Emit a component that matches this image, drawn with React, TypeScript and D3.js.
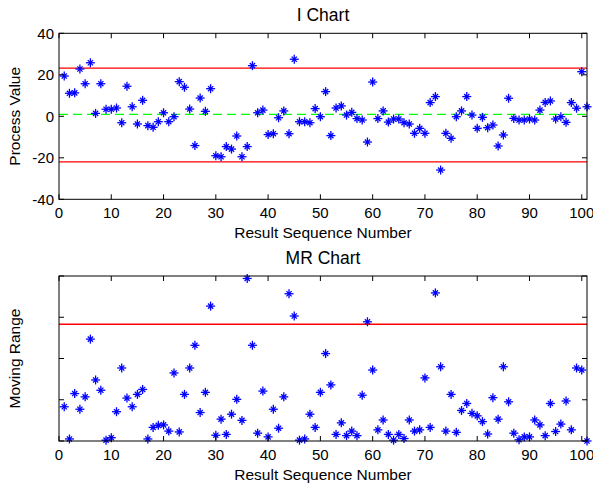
import React from "react";
import * as d3 from "d3";

// individual values, sample 1..101
const iValues = [
  19.4, 11.1, 11.3, 22.8, 15.7, 25.8, 1.4, 15.7, 3.4, 3.4,
  4.0, -3.1, 14.5, 4.6, -3.7, 7.7, -4.5, -5.3, -2.6, 1.7,
  -2.6, -0.2, 16.7, 14.0, 3.5, -14.1, 8.8, 2.4, 13.3, -19.0,
  -19.5, -14.6, -15.8, -9.5, -19.5, -14.6, 24.4, 1.7, 3.0, -8.8,
  -8.4, -0.7, 2.6, -8.4, 27.5, -2.6, -2.6, -3.1, 3.7, -0.2,
  11.9, -9.3, 4.0, 5.0, 0.6, 1.9, -1.1, -1.8, -12.4, 16.5,
  -1.1, 2.6, -2.8, -1.3, -1.3, -3.1, -3.7, -8.2, -5.8, -8.2,
  6.6, 9.5, -25.9, -8.2, -10.6, -0.2, 2.6, 9.5, 0.6, -5.8,
  -0.5, -5.5, -4.2, -14.3, -9.0, 8.7, -1.0, -1.8, -1.8, -1.3,
  -1.8, 3.0, 6.7, 7.4, -1.3, -0.2, -2.9, 6.6, 3.9, 21.5,
  4.6,
];

// moving ranges, sample 1..101
const mrValues = [
  8.3, 0.5, 11.5, 7.7, 10.7, 24.7, 14.8, 12.3, 0.2, 0.8,
  7.1, 17.7, 10.4, 8.3, 11.3, 12.5, 0.5, 3.3, 3.8, 3.9,
  2.4, 16.5, 2.2, 11.3, 17.7, 23.2, 6.9, 11.8, 32.7, 1.4,
  5.3, 1.6, 6.5, 10.1, 5.0, 39.4, 23.2, 1.9, 12.1, 1.0,
  7.7, 3.1, 10.7, 35.7, 30.3, 0.2, 0.5, 6.5, 3.3, 11.8,
  21.2, 13.6, 1.6, 4.4, 1.3, 2.4, 1.3, 11.1, 28.9, 17.2,
  2.7, 5.1, 1.6, 0.2, 1.6, 0.6, 5.1, 2.4, 2.7, 15.3,
  3.3, 35.9, 18.0, 2.4, 11.3, 2.1, 7.4, 9.1, 6.7, 6.1,
  4.7, 1.7, 10.5, 5.3, 18.0, 9.5, 1.9, 0.3, 1.0, 1.0,
  5.1, 3.9, 1.3, 9.1, 2.3, 4.1, 9.7, 2.7, 17.7, 17.2,
  0,
];

const iLimits = { ucl: 23.2, cl: 0.9, lcl: -22.0 };
const mrUcl = 28.3;

const xTicks = [0, 10, 20, 30, 40, 50, 60, 70, 80, 90, 100];
const iTicks = [-40, -20, 0, 20, 40];
const mrTicks = [0, 10, 20, 30, 40];

const font = "'Liberation Sans', Arial, sans-serif";
const left = 59;
const right = 587;

const x = d3.scaleLinear().domain([0, 101]).range([left, right]);

function Star({ cx, cy }: { cx: number; cy: number }) {
  const a = 4.5;
  const d = 2.6;
  return (
    <g stroke="#0000ff" strokeWidth={1.3}>
      <line x1={cx - a} x2={cx + a} y1={cy} y2={cy} />
      <line x1={cx} x2={cx} y1={cy - a} y2={cy + a} />
      <line x1={cx - d} x2={cx + d} y1={cy - d} y2={cy + d} />
      <line x1={cx - d} x2={cx + d} y1={cy + d} y2={cy - d} />
      <circle cx={cx} cy={cy} r={1.4} fill="#0000ff" stroke="none" />
    </g>
  );
}

function Panel(props: {
  top: number;
  bottom: number;
  domain: [number, number];
  yTicks: number[];
  showYLabels: boolean;
  title: string;
  ylabel: string;
  values: number[];
  children?: (y: d3.ScaleLinear<number, number>) => React.ReactNode;
}) {
  const { top, bottom } = props;
  const y = d3.scaleLinear().domain(props.domain).range([bottom, top]);
  const tl = 5;
  return (
    <g fontFamily={font} fill="#000">
      <text x={(left + right) / 2} y={top - 12.5} textAnchor="middle" fontSize={17.5}>
        {props.title}
      </text>
      {props.children && props.children(y)}
      {props.values.map((v, i) => (
        <Star key={i} cx={x(i + 1)} cy={y(v)} />
      ))}
      <rect x={left} y={top} width={right - left} height={bottom - top} fill="none" stroke="#000" strokeWidth={1} />
      {xTicks.map((t) => (
        <g key={t}>
          <line x1={x(t)} x2={x(t)} y1={bottom} y2={bottom - tl} stroke="#000" />
          <line x1={x(t)} x2={x(t)} y1={top} y2={top + tl} stroke="#000" />
          <text x={x(t)} y={bottom + 18.5} textAnchor="middle" fontSize={15}>
            {t}
          </text>
        </g>
      ))}
      {props.yTicks.map((t) => (
        <g key={t}>
          <line x1={left} x2={left + tl} y1={y(t)} y2={y(t)} stroke="#000" />
          <line x1={right} x2={right - tl} y1={y(t)} y2={y(t)} stroke="#000" />
          {props.showYLabels && (
            <text x={left - 5} y={y(t) + 5.5} textAnchor="end" fontSize={15}>
              {t}
            </text>
          )}
        </g>
      ))}
      <text x={(left + right) / 2} y={bottom + 38.5} textAnchor="middle" fontSize={15.5}>
        Result Sequence Number
      </text>
      <text
        transform={`translate(20,${(top + bottom) / 2}) rotate(-90)`}
        textAnchor="middle"
        fontSize={15.5}
      >
        {props.ylabel}
      </text>
    </g>
  );
}

export default function App() {
  return (
    <svg
      width={593}
      height={491}
      style={{ position: "absolute", left: 0, top: 0, background: "#fff" }}
    >
      <Panel
        top={33.3}
        bottom={199.3}
        domain={[-40, 40]}
        yTicks={iTicks}
        showYLabels={true}
        title="I Chart"
        ylabel="Process Value"
        values={iValues}
      >
        {(y) => (
          <g>
            <line x1={left} x2={right} y1={y(iLimits.ucl)} y2={y(iLimits.ucl)} stroke="#ff0000" strokeWidth={1.3} />
            <line x1={left} x2={right} y1={y(iLimits.lcl)} y2={y(iLimits.lcl)} stroke="#ff0000" strokeWidth={1.3} />
            <line
              x1={left}
              x2={right}
              y1={y(iLimits.cl)}
              y2={y(iLimits.cl)}
              stroke="#00ff00"
              strokeWidth={1.3}
              strokeDasharray="9,5"
            />
          </g>
        )}
      </Panel>
      <Panel
        top={276}
        bottom={441}
        domain={[0, 40]}
        yTicks={mrTicks}
        showYLabels={false}
        title="MR Chart"
        ylabel="Moving Range"
        values={mrValues}
      >
        {(y) => (
          <line x1={left} x2={right} y1={y(mrUcl)} y2={y(mrUcl)} stroke="#ff0000" strokeWidth={1.3} />
        )}
      </Panel>
    </svg>
  );
}
